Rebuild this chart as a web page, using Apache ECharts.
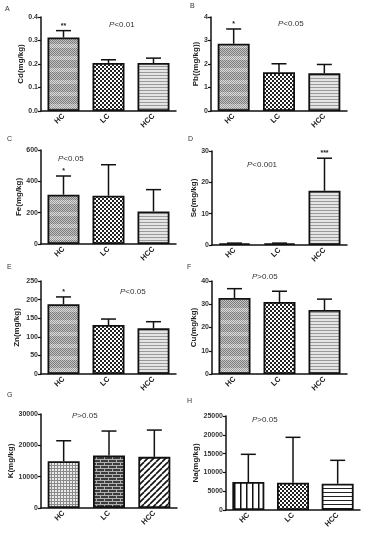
<!DOCTYPE html>
<html><head><meta charset="utf-8">
<script src="https://cdn.jsdelivr.net/npm/echarts@6/dist/echarts.min.js"></script>
<style>html,body{margin:0;padding:0;background:#fff}#c{width:371px;height:538px}</style>
</head><body><div id="c"></div>
<script>
const categories = ['HC', 'LC', 'HCC'];

const cdMean = [0.313, 0.204, 0.204], cdErr = [0.029, 0.014, 0.021], cdStars = ['**', '', ''];
const pbMean = [2.86, 1.65, 1.61], pbErr = [0.63, 0.36, 0.37], pbStars = ['*', '', ''];
const feMean = [315, 308, 208], feErr = [119, 198, 139], feStars = ['*', '', ''];
const seMean = [0.5, 0.5, 17.3], seErr = [0.1, 0.1, 10.4], seStars = ['', '', '***'];
const znMean = [187.7, 131.7, 122.8], znErr = [19.5, 16, 17.8], znStars = ['*', '', ''];
const cuMean = [32.7, 31.0, 27.5], cuErr = [4.0, 4.6, 4.7], cuStars = ['', '', ''];
const kMean = [14950, 16760, 16330], kErr = [6510, 7800, 8540], kStars = ['', '', ''];
const naMean = [7450, 7270, 7000], naErr = [7360, 12060, 6210], naStars = ['', '', ''];

const yNames = ['Cd(mg/kg)', 'Pb((mg/kg))', 'Fe(mg/kg)', 'Se(mg/kg)', 'Zn(mg/kg)', 'Cu(mg/kg)', 'K(mg/kg)', 'Na(mg/kg)'];
const yMax = [0.4, 4, 600, 30, 250, 40, 30000, 25000];
const yInterval = [0.1, 1, 200, 10, 50, 10, 10000, 5000];
const yDecimals = [1, 0, 0, 0, 0, 0, 0, 0];
const pTexts = ['<0.01', '<0.05', '<0.05', '<0.001', '<0.05', '>0.05', '>0.05', '>0.05'];
const panelLetters = ['A', 'B', 'C', 'D', 'E', 'F', 'G', 'H'];

const means = [cdMean, pbMean, feMean, seMean, znMean, cuMean, kMean, naMean];
const errs = [cdErr, pbErr, feErr, seErr, znErr, cuErr, kErr, naErr];
const stars = [cdStars, pbStars, feStars, seStars, znStars, cuStars, kStars, naStars];

// layout (pixels)
const grids = [
  {left: 41, top: 17, width: 135, height: 94},
  {left: 211, top: 17, width: 136, height: 94},
  {left: 41, top: 150, width: 135, height: 94},
  {left: 212, top: 151, width: 135, height: 94},
  {left: 41, top: 281, width: 135, height: 93},
  {left: 212, top: 281, width: 135, height: 93},
  {left: 41, top: 414, width: 136, height: 94},
  {left: 226, top: 416, width: 134, height: 94}
];
const nameGaps = [15, 9, 18, 10, 20, 10, 24, 24];
const pPos = [[109, 26], [278, 25], [58, 160], [247, 166], [120, 293], [252, 278], [72, 417], [252, 421]];
const letterPos = [[8, 10], [193, 7], [10, 140], [191, 140], [10, 268], [190, 268], [10, 396], [190, 402]];

function mk(w, h, draw) {
  const c = document.createElement('canvas'); c.width = w; c.height = h;
  const g = c.getContext('2d'); draw(g, w, h); return c;
}
const patGreyCheck = mk(4, 12, (g) => {
  for (let y = 0; y < 12; y++) for (let x = 0; x < 4; x++) {
    const on = (x + y) % 2 === 0;
    if (y < 8) g.fillStyle = on ? '#7c7c7c' : '#c4c4c4';
    else g.fillStyle = on ? '#9c9c9c' : '#dadada';
    g.fillRect(x, y, 1, 1);
  }
});
const patChecker = mk(4, 4, (g) => {
  g.fillStyle = '#fff'; g.fillRect(0, 0, 4, 4);
  g.fillStyle = '#222'; g.fillRect(0, 0, 2, 2); g.fillRect(2, 2, 2, 2);
});
const patGreyLines = mk(2, 3, (g) => {
  g.fillStyle = '#e4e4e4'; g.fillRect(0, 0, 2, 3);
  g.fillStyle = '#9a9a9a'; g.fillRect(0, 0, 2, 1);
});
const patLightGrid = mk(3, 3, (g) => {
  g.fillStyle = '#eaeaea'; g.fillRect(0, 0, 3, 3);
  g.fillStyle = '#8a8a8a'; g.fillRect(0, 0, 3, 1); g.fillRect(0, 0, 1, 3);
});
const patBrick = mk(8, 6, (g) => {
  g.fillStyle = '#3c3c3c'; g.fillRect(0, 0, 8, 6);
  g.fillStyle = '#b0b0b0';
  g.fillRect(0, 0, 8, 1); g.fillRect(0, 3, 8, 1);
  g.fillRect(0, 1, 1, 2); g.fillRect(4, 4, 1, 2);
});
const patDiag = mk(6, 6, (g) => {
  g.fillStyle = '#fff'; g.fillRect(0, 0, 6, 6);
  g.strokeStyle = '#111'; g.lineWidth = 1.6;
  for (const o of [-6, 0, 6]) { g.beginPath(); g.moveTo(o, 6); g.lineTo(o + 6, 0); g.stroke(); }
});
const patVert = mk(6, 2, (g) => {
  g.fillStyle = '#fff'; g.fillRect(0, 0, 6, 2);
  g.fillStyle = '#111'; g.fillRect(0, 0, 1.5, 2);
});
const patHoriz = mk(2, 4, (g) => {
  g.fillStyle = '#fff'; g.fillRect(0, 0, 2, 4);
  g.fillStyle = '#222'; g.fillRect(0, 0, 2, 1);
});
const P = (c) => ({image: c, repeat: 'repeat'});
const patterns = [];
for (let i = 0; i < 6; i++) patterns.push([P(patGreyCheck), P(patChecker), P(patGreyLines)]);
patterns.push([P(patLightGrid), P(patBrick), P(patDiag)]);
patterns.push([P(patVert), P(patChecker), P(patHoriz)]);

const FONT = 'Liberation Sans';
const option = {
  animation: false,
  grid: [], xAxis: [], yAxis: [], series: [], graphic: []
};
for (let i = 0; i < 8; i++) {
  option.grid.push(Object.assign({containLabel: false, outerBoundsMode: 'none'}, grids[i]));
  option.xAxis.push({
    type: 'category', gridIndex: i, data: categories,
    axisLine: {lineStyle: {color: '#111', width: 1.5}},
    axisTick: {show: false},
    axisLabel: {rotate: 45, fontSize: 7.5, fontWeight: 'bold', color: '#222', fontFamily: FONT, margin: 4}
  });
  const dec = yDecimals[i];
  option.yAxis.push({
    type: 'value', gridIndex: i, min: 0, max: yMax[i], interval: yInterval[i],
    name: yNames[i], nameLocation: 'middle', nameGap: nameGaps[i], nameRotate: 90,
    nameTextStyle: {fontSize: 8, fontWeight: 'bold', color: '#222', fontFamily: FONT},
    axisLine: {show: true, lineStyle: {color: '#111', width: 1.5}},
    axisTick: {show: true, length: 3, lineStyle: {color: '#111', width: 1.2}},
    splitLine: {show: false},
    axisLabel: {fontSize: 7, fontWeight: 'bold', color: '#333', fontFamily: FONT, margin: 3,
      formatter: (v) => v.toFixed(dec)}
  });
  option.series.push({
    type: 'bar', xAxisIndex: i, yAxisIndex: i, barWidth: 32, z: 2,
    data: means[i].map((v, k) => ({value: v, itemStyle: {color: patterns[i][k], borderColor: '#111', borderWidth: 1.8}}))
  });
  const m = means[i], e = errs[i], s = stars[i];
  option.series.push({
    type: 'custom', xAxisIndex: i, yAxisIndex: i, z: 3,
    data: m.map((v, k) => [k, v, e[k]]),
    renderItem: function (params, api) {
      const k = api.value(0), v = api.value(1), er = api.value(2);
      const p0 = api.coord([k, v]), p1 = api.coord([k, v + er]);
      const st = {stroke: '#111', lineWidth: 1.5};
      const children = [
        {type: 'line', shape: {x1: p0[0], y1: p0[1], x2: p1[0], y2: p1[1]}, style: st},
        {type: 'line', shape: {x1: p1[0] - 7.5, y1: p1[1], x2: p1[0] + 7.5, y2: p1[1]}, style: st}
      ];
      const star = s[params.dataIndex];
      if (star) children.push({type: 'text', x: p1[0], y: p1[1] - 5,
        style: {text: star, fill: '#222', font: 'bold 7px ' + FONT, align: 'center', verticalAlign: 'middle'}});
      return {type: 'group', children};
    }
  });
  option.graphic.push({
    type: 'text', left: pPos[i][0], top: pPos[i][1] - 5,
    style: {text: '{i|P}' + pTexts[i], fill: '#333', font: '8px ' + FONT,
      rich: {i: {fontStyle: 'italic', fontSize: 8, fontFamily: FONT, fill: '#333'}}}
  });
  option.graphic.push({
    type: 'text', left: letterPos[i][0] - 3, top: letterPos[i][1] - 4,
    style: {text: panelLetters[i], fill: '#333', font: '7px ' + FONT}
  });
}
const chart = echarts.init(document.getElementById('c'), null, {renderer: 'canvas'});
chart.setOption(option);
</script></body></html>
